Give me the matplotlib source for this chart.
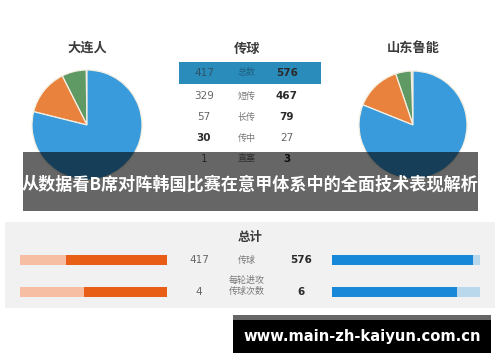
import matplotlib
matplotlib.use("Agg")
import matplotlib.pyplot as plt
from matplotlib.patches import Rectangle

plt.rcParams["font.family"] = ["Noto Sans CJK SC", "DejaVu Sans"]

# Data
pie_titles = ["大连人", "山东鲁能"]
pie_labels = ["直塞", "传中", "长传", "短传"]
dalian_vals = [1, 30, 57, 329]
luneng_vals = [3, 27, 79, 467]
pie_colors = ["#c8a8a4", "#5f9a64", "#e8823c", "#3a9bdc"]

table_labels = ["总数", "短传", "长传", "传中", "直塞"]
table_left = [417, 329, 57, 30, 1]
table_right = [576, 467, 79, 27, 3]

total_labels = ["传球", "每轮进攻\n传球次数"]
total_left = [417, 4]
total_right = [576, 6]
total_scale = [605, 7.1]

W, H = 500, 362
fig = plt.figure(figsize=(W / 100, H / 100), dpi=100)
fig.patch.set_facecolor("white")

# Base axes in pixel coords
ax = fig.add_axes([0, 0, 1, 1])
ax.set_xlim(0, W)
ax.set_ylim(H, 0)
ax.axis("off")

# Pie charts
def add_pie(cx, cy, r, vals, title):
    s = r * 1.25 * 2
    pax = fig.add_axes([(cx - s / 2) / W, (H - cy - s / 2) / H, s / W, s / H])
    pax.pie(vals, colors=pie_colors, startangle=90, counterclock=True,
            wedgeprops={"edgecolor": "#f4efe2", "linewidth": 0.9})
    pax.set_xlim(-1.25, 1.25)
    pax.set_ylim(-1.25, 1.25)
    ax.text(cx, 48, title, ha="center", va="center", fontsize=9.5,
            fontweight="bold", color="#3b3b3b")

add_pie(87, 125, 55, dalian_vals, pie_titles[0])
add_pie(413, 125, 54, luneng_vals, pie_titles[1])

# Pass table
ax.text(247, 49, "传球", ha="center", va="center", fontsize=9.5,
        fontweight="bold", color="#3b3b3b")
ax.add_patch(Rectangle((179, 62), 142, 22, facecolor="#2a8cbb", edgecolor="none"))
row_y = [73, 96, 117, 138, 159]
for i, (lab, lv, rv) in enumerate(zip(table_labels, table_left, table_right)):
    y = row_y[i]
    lb = lv > rv
    c_num = "#2b2b2b"
    c_thin = "#2f5266" if i == 0 else "#666666"
    ax.text(204, y, str(lv), ha="center", va="center", fontsize=7.5,
            color=c_num if lb else c_thin, fontweight="bold" if lb else "normal",
            family="DejaVu Sans")
    ax.text(247, y, lab, ha="center", va="center", fontsize=6.5,
            color="#1f5f80" if i == 0 else "#777777")
    ax.text(287, y, str(rv), ha="center", va="center", fontsize=7.5,
            color=c_num if not lb else c_thin, fontweight="bold" if not lb else "normal",
            family="DejaVu Sans")

# Totals panel
ax.add_patch(Rectangle((5, 222), 490, 86, facecolor="#f1f1f1", edgecolor="none"))
ax.text(250, 238, "总计", ha="center", va="center", fontsize=9,
        fontweight="bold", color="#3b3b3b")
bar_y = [260, 292]
bl0, bl1 = 20, 167
br0, br1 = 332, 480
for i in range(len(total_labels)):
    y = bar_y[i]
    ax.add_patch(Rectangle((bl0, y - 5), bl1 - bl0, 10, facecolor="#f6bfa3", edgecolor="none"))
    lw = (bl1 - bl0) * total_left[i] / total_scale[i]
    ax.add_patch(Rectangle((bl1 - lw, y - 5), lw, 10, facecolor="#e85e17", edgecolor="none"))
    ax.add_patch(Rectangle((br0, y - 5), br1 - br0, 10, facecolor="#b9d8ec", edgecolor="none"))
    rw = (br1 - br0) * total_right[i] / total_scale[i]
    ax.add_patch(Rectangle((br0, y - 5), rw, 10, facecolor="#1787d8", edgecolor="none"))
    ax.text(199, y, str(total_left[i]), ha="center", va="center", fontsize=7.5,
            color="#666666", family="DejaVu Sans")
    ax.text(301, y, str(total_right[i]), ha="center", va="center", fontsize=7.5,
            color="#2b2b2b", fontweight="bold", family="DejaVu Sans")
    ly = y if i == 0 else y - 6
    ax.text(247, ly, total_labels[i], ha="center", va="center", fontsize=6.5,
            color="#777777", linespacing=1.35)

# Overlay band and watermark
top = fig.add_axes([0, 0, 1, 1])
top.set_xlim(0, W)
top.set_ylim(H, 0)
top.axis("off")
top.patch.set_alpha(0)
top.add_patch(Rectangle((23, 152), 455, 59, facecolor="black", alpha=0.6, edgecolor="none"))
top.text(250, 185, "从数据看B席对阵韩国比赛在意甲体系中的全面技术表现解析",
         ha="center", va="center", fontsize=12.3, fontweight="bold", color="white")
top.add_patch(Rectangle((233, 315), 258, 38, facecolor="black", edgecolor="none"))
top.add_patch(Rectangle((233, 315), 258, 5, facecolor="#666666", edgecolor="none"))
top.text(362, 336, "www.main-zh-kaiyun.com.cn", ha="center", va="center",
         fontsize=10.6, fontweight="bold", color="white", family="DejaVu Sans")

fig.savefig("out.png", dpi=100, facecolor="white")
